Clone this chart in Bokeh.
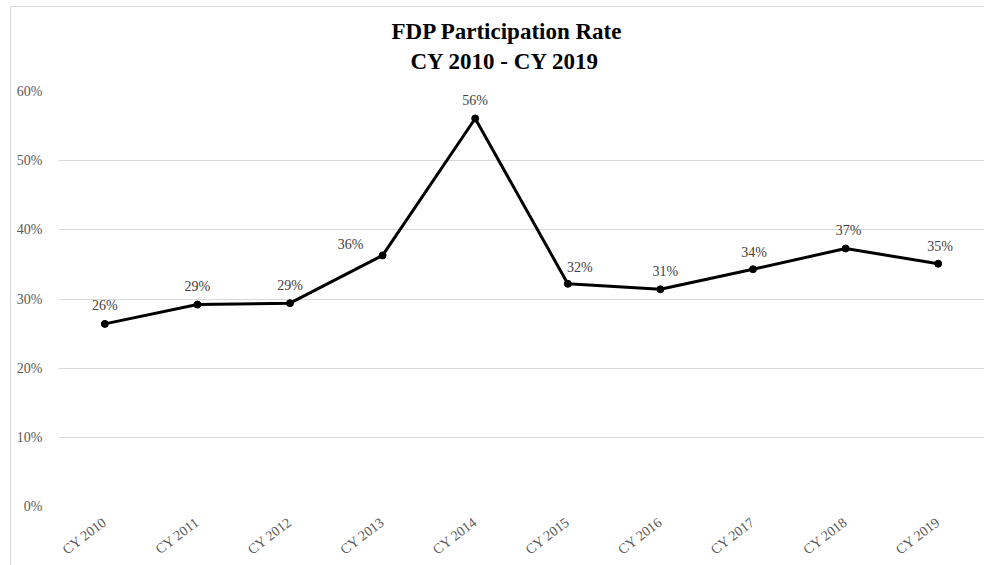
from bokeh.plotting import figure
from bokeh.models import ColumnDataSource, NumeralTickFormatter, Title, FixedTicker
from bokeh.core.properties import value
from bokeh.embed import file_html
from bokeh.resources import INLINE

# ---- data ----
years = ["CY 2010", "CY 2011", "CY 2012", "CY 2013", "CY 2014",
         "CY 2015", "CY 2016", "CY 2017", "CY 2018", "CY 2019"]
rates = [0.264, 0.292, 0.294, 0.363, 0.561, 0.322, 0.314, 0.343, 0.373, 0.351]
y_ticks = [0.0, 0.1, 0.2, 0.3, 0.4, 0.5, 0.6]
title_lines = ["FDP Participation Rate", "CY 2010 - CY 2019"]

# ---- label placement (style only) ----
lab_dx = [0, 0, 0, -32, 0, 12, 5, 1, 3, 2]
lab_dy = [-18, -18, -18, -11, -18, -16, -18, -17, -18, -17]

FONT = "Liberation Serif"

src = ColumnDataSource(dict(
    x=years, y=rates,
    lab=[f"{round(v * 100)}%" for v in rates],
    dx=lab_dx, dy=lab_dy,
))

p = figure(
    x_range=years, y_range=(0, 0.6),
    frame_width=926, frame_height=415,
    min_border_left=47, min_border_right=0, min_border_top=84, min_border_bottom=50,
    output_backend="svg", toolbar_location=None,
    background_fill_color="white", border_fill_color="white",
)
p.outline_line_color = None
p.title = None

# title lines, left-aligned with offsets so that they are centred near x=505
t2 = Title(text=title_lines[1], align="left", offset=352,
           text_font=FONT, text_font_size="23px", text_font_style="bold",
           text_color="#000000", standoff=36)
t1 = Title(text=title_lines[0], align="left", offset=333,
           text_font=FONT, text_font_size="23px", text_font_style="bold",
           text_color="#000000", standoff=-30)
p.add_layout(t2, "above")
p.add_layout(t1, "above")

p.line("x", "y", source=src, line_color="black", line_width=3)
p.scatter("x", "y", source=src, size=7, fill_color="black", line_color="black")
p.text("x", "y", text="lab", source=src, x_offset="dx", y_offset="dy",
       text_font=value(FONT), text_font_size="14px", text_color="#404040",
       text_align="center", text_baseline="middle")

# y axis
p.yaxis.ticker = FixedTicker(ticks=y_ticks)
p.yaxis.formatter = NumeralTickFormatter(format="0%")
p.yaxis.axis_line_color = None
p.yaxis.major_tick_line_color = None
p.yaxis.minor_tick_line_color = None
p.yaxis.major_label_standoff = 10
p.yaxis.major_label_text_font = FONT
p.yaxis.major_label_text_font_size = "14px"
p.yaxis.major_label_text_color = "#595959"

# x axis
p.xaxis.axis_line_color = None
p.xaxis.major_tick_line_color = None
p.xaxis.major_label_orientation = 0.65
p.xaxis.major_label_standoff = 8
p.xaxis.major_label_text_font = FONT
p.xaxis.major_label_text_font_size = "14px"
p.xaxis.major_label_text_color = "#595959"

p.xgrid.grid_line_color = None
p.ygrid.grid_line_color = "#d9d9d9"
p.ygrid.grid_line_width = 1
p.x_range.range_padding = 0

p.styles = {"border-left": "1px solid #d9d9d9", "border-top": "1px solid #d9d9d9",
            "margin-left": "10px", "margin-top": "6px"}

open("out.html", "w").write(file_html(p, INLINE))
